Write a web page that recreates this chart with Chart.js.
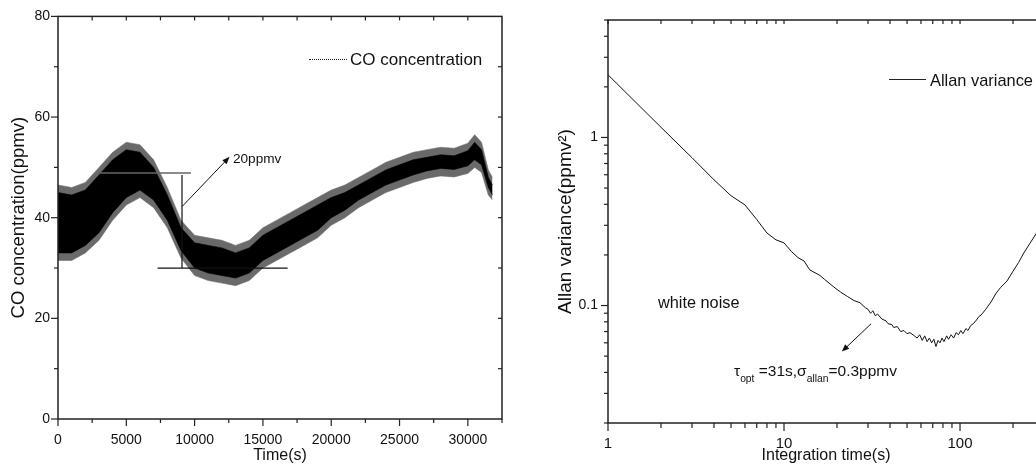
<!DOCTYPE html>
<html>
<head>
<meta charset="utf-8">
<script src="https://cdn.jsdelivr.net/npm/chart.js@4/dist/chart.umd.min.js"></script>
<style>
  body { margin:0; width:1036px; height:470px; overflow:hidden; background:#fff; position:relative;
         font-family:"Liberation Sans", Arial, sans-serif; color:#111; }
  canvas { position:absolute; top:0; }
  #c1 { left:0; }
  #c2 { left:518px; }
  .lbl { position:absolute; white-space:nowrap; line-height:1; color:#111; }
  .sb { font-size:10.3px; vertical-align:-5.5px; }
</style>
</head>
<body>
<canvas id="c1" width="518" height="470"></canvas>
<canvas id="c2" width="543" height="470"></canvas>

<!-- legends + notes -->
<div class="lbl" style="left:309px;top:59px;width:38px;height:0;border-top:1px dotted #222;"></div>
<div class="lbl" style="left:350px;top:51px;font-size:17px;">CO concentration</div>
<div class="lbl" style="left:233px;top:152px;font-size:13.6px;">20ppmv</div>

<div class="lbl" style="left:889px;top:79px;width:37px;height:0;border-top:1px solid #222;"></div>
<div class="lbl" style="left:930px;top:72px;font-size:16.4px;">Allan variance</div>
<div class="lbl" style="left:658px;top:294px;font-size:16.3px;">white noise</div>
<div class="lbl" style="left:734px;top:363px;font-size:15.5px;">&tau;<span class="sb">opt</span> =31s,&sigma;<span class="sb">allan</span>=0.3ppmv</div>

<script>
// ---- left panel: CO concentration band ----
const timeS       = [0, 1000, 2000, 3000, 4000, 5000, 6000, 7000, 8000, 9000, 10000, 11000, 12000, 13000, 14000, 15000, 16000, 17000, 18000, 19000, 20000, 21000, 22000, 23000, 24000, 25000, 26000, 27000, 28000, 29000, 30000, 30500, 31000, 31500, 31800];
const coTipsUpper = [46.5, 46, 47, 50, 53, 55, 54.5, 51.5, 46, 39.5, 36.5, 36, 35.5, 34.5, 35.5, 38, 39.5, 41, 42.5, 44, 45.5, 46.5, 48, 49.5, 51, 52, 53, 53.5, 54, 53.8, 54.8, 56.5, 55, 49.5, 48];
const coCoreUpper = [45, 44.5, 45.5, 48.5, 51.5, 53.5, 53, 50, 44.5, 38, 35, 34.5, 34, 33, 34, 36.5, 38, 39.5, 41, 42.5, 44, 45, 46.5, 48, 49.5, 50.5, 51.5, 52, 52.5, 52.3, 53.3, 55, 53.5, 48, 46.5];
const coCoreLower = [33, 33, 34.5, 37, 41, 44, 45.5, 43.5, 39.5, 33.5, 30, 29, 28.5, 28, 29, 31.5, 33, 34.5, 36, 37.5, 40, 41.5, 43.5, 45, 46.5, 47.5, 48.5, 49.3, 49.8, 49.6, 50.3, 51.5, 50.5, 46, 44.5];
const coTipsLower = [31.5, 31.5, 33, 35.5, 39.5, 42.5, 44, 42, 38, 32, 28.5, 27.5, 27, 26.5, 27.5, 30, 31.5, 33, 34.5, 36, 38.5, 40, 42, 43.5, 45, 46, 47, 47.8, 48.3, 48.1, 48.8, 50, 49, 44.5, 43.5];
const leftXTicks = [0, 5000, 10000, 15000, 20000, 25000, 30000];
const leftYTicks = [0, 20, 40, 60, 80];

// ---- right panel: Allan variance ----
const tauS = [1, 2, 3, 4, 5, 6, 7, 8, 9, 10, 11, 12, 13, 14, 16, 17, 19, 21, 23, 25, 27, 29, 30, 31, 32, 33, 34, 36, 38, 39, 41, 42, 44, 46, 48, 50, 52, 55, 57, 59, 61, 63, 65, 67, 69, 71, 73, 75, 77, 79, 81, 84, 86, 89, 92, 95, 98, 101, 104, 108, 111, 115, 119, 124, 128, 132, 140, 150, 160, 170, 185, 200, 215, 230, 250, 272, 290];
const allanVar = [2.36, 1.15, 0.758, 0.56, 0.45, 0.397, 0.325, 0.27, 0.246, 0.236, 0.21, 0.193, 0.184, 0.163, 0.151, 0.143, 0.13, 0.12, 0.113, 0.107, 0.104, 0.097, 0.095, 0.090, 0.093, 0.087, 0.089, 0.083, 0.081, 0.078, 0.077, 0.074, 0.075, 0.070, 0.071, 0.068, 0.069, 0.066, 0.064, 0.067, 0.062, 0.066, 0.061, 0.064, 0.060, 0.063, 0.057, 0.062, 0.060, 0.064, 0.061, 0.066, 0.063, 0.067, 0.064, 0.069, 0.067, 0.071, 0.068, 0.073, 0.071, 0.076, 0.078, 0.082, 0.086, 0.088, 0.095, 0.105, 0.118, 0.128, 0.14, 0.16, 0.18, 0.205, 0.235, 0.27, 0.3];
const rightXTicks = [1, 10, 100];
const rightYTicks = [0.1, 1];

const FONT = '"Liberation Sans", Arial, sans-serif';
Chart.defaults.font.family = FONT;
Chart.defaults.color = '#111';

function range(a, b, step) { const r = []; for (let v = a; v <= b + 1e-9; v += step) r.push(v); return r; }
function logMinors(lo, hi) {
  const r = [];
  for (let d = Math.pow(10, Math.floor(Math.log10(lo))); d <= hi; d *= 10)
    for (let k = 1; k <= 9; k++) { const v = +(k * d).toPrecision(3); if (v >= lo && v <= hi) r.push(v); }
  return r;
}

// frame + tick marks (out on bottom/left, in on top/right)
const frameTicks = {
  id: 'frameTicks',
  afterDraw(chart, args, o) {
    const { ctx, chartArea: a, scales } = chart;
    ctx.save();
    ctx.strokeStyle = '#222';
    ctx.lineWidth = 1.5;
    ctx.strokeRect(a.left, a.top, a.right - a.left, a.bottom - a.top);
    ctx.lineWidth = 1.2;
    (o.marks || []).forEach(m => {
      const s = scales[m.axis];
      m.values.forEach(v => {
        const p = s.getPixelForValue(v);
        ctx.beginPath();
        if (m.side === 'bottom') { ctx.moveTo(p, a.bottom); ctx.lineTo(p, a.bottom + m.len); }
        if (m.side === 'top')    { ctx.moveTo(p, a.top);    ctx.lineTo(p, a.top + m.len); }
        if (m.side === 'left')   { ctx.moveTo(a.left, p);   ctx.lineTo(a.left - m.len, p); }
        if (m.side === 'right')  { ctx.moveTo(a.right, p);  ctx.lineTo(a.right - m.len, p); }
        ctx.stroke();
      });
    });
    ctx.restore();
  }
};

// note lines and arrows, in data units
const notes = {
  id: 'notes',
  afterDatasetsDraw(chart, args, o) {
    const { ctx, scales: { x, y } } = chart;
    ctx.save();
    (o.lines || []).forEach(l => {
      ctx.strokeStyle = l.color; ctx.lineWidth = l.w;
      ctx.beginPath();
      ctx.moveTo(x.getPixelForValue(l.x1), y.getPixelForValue(l.y1));
      ctx.lineTo(x.getPixelForValue(l.x2), y.getPixelForValue(l.y2));
      ctx.stroke();
    });
    (o.arrows || []).forEach(l => {
      const x1 = x.getPixelForValue(l.x1), y1 = y.getPixelForValue(l.y1);
      const x2 = x.getPixelForValue(l.x2), y2 = y.getPixelForValue(l.y2);
      const ang = Math.atan2(y2 - y1, x2 - x1), h = 8;
      ctx.strokeStyle = '#111'; ctx.fillStyle = '#111'; ctx.lineWidth = 1;
      ctx.beginPath(); ctx.moveTo(x1, y1); ctx.lineTo(x2 - Math.cos(ang) * 4, y2 - Math.sin(ang) * 4); ctx.stroke();
      ctx.beginPath();
      ctx.moveTo(x2, y2);
      ctx.lineTo(x2 - h * Math.cos(ang - 0.38), y2 - h * Math.sin(ang - 0.38));
      ctx.lineTo(x2 - h * Math.cos(ang + 0.38), y2 - h * Math.sin(ang + 0.38));
      ctx.closePath(); ctx.fill();
    });
    ctx.restore();
  }
};

const pts = arr => timeS.map((t, i) => ({ x: t, y: arr[i] }));

// Left chart (datasets are painted last-to-first, so the black core goes first)
new Chart(document.getElementById('c1'), {
  type: 'line',
  data: {
    datasets: [
      { data: pts(coCoreUpper), borderColor: '#000', borderWidth: 0.6, backgroundColor: '#000', fill: '+1', pointRadius: 0 },
      { data: pts(coCoreLower), borderColor: '#000', borderWidth: 0.6, pointRadius: 0, fill: false },
      { data: pts(coTipsUpper), borderColor: '#777', borderWidth: 0.6, backgroundColor: '#6a6a6a', fill: '+1', pointRadius: 0 },
      { data: pts(coTipsLower), borderColor: '#777', borderWidth: 0.6, pointRadius: 0, fill: false }
    ]
  },
  options: {
    responsive: false,
    animation: false,
    layout: { padding: { left: 0, right: 16, top: 16, bottom: 0 } },
    plugins: {
      legend: { display: false },
      tooltip: { enabled: false },
      frameTicks: {
        marks: [
          { axis: 'x', side: 'bottom', values: leftXTicks, len: 7 },
          { axis: 'x', side: 'bottom', values: range(2500, 32500, 5000), len: 4 },
          { axis: 'x', side: 'top', values: range(2500, 30000, 2500), len: 4 },
          { axis: 'y', side: 'left', values: leftYTicks, len: 7 },
          { axis: 'y', side: 'left', values: range(10, 70, 20), len: 4 },
          { axis: 'y', side: 'right', values: range(10, 70, 10), len: 4 }
        ]
      },
      notes: {
        lines: [
          { x1: 2855, y1: 48.9, x2: 9735, y2: 48.9, color: '#666', w: 1.5 },
          { x1: 7290, y1: 30, x2: 16810, y2: 30, color: '#111', w: 1.2 },
          { x1: 9077, y1: 48.5, x2: 9077, y2: 30, color: '#111', w: 1.2 }
        ],
        arrows: [{ x1: 9077, y1: 42.2, x2: 12560, y2: 52.1 }]
      }
    },
    scales: {
      x: {
        type: 'linear', min: 0, max: 32500,
        grid: { display: false, drawTicks: false }, border: { display: false },
        afterBuildTicks: s => { s.ticks = leftXTicks.map(v => ({ value: v })); },
        afterFit: s => { s.height = 51; },
        ticks: { padding: 13, font: { size: 14 }, maxRotation: 0, autoSkip: false, callback: v => String(v) },
        title: { display: true, text: 'Time(s)', font: { size: 16 }, padding: { top: 0, bottom: 5 } }
      },
      y: {
        min: 0, max: 80,
        grid: { display: false, drawTicks: false }, border: { display: false },
        afterBuildTicks: s => { s.ticks = leftYTicks.map(v => ({ value: v })); },
        afterFit: s => { s.width = 58; },
        ticks: { padding: 8, font: { size: 14 }, autoSkip: false, callback: v => String(v) },
        title: { display: true, text: 'CO concentration(ppmv)', font: { size: 18.5 }, padding: { top: 8, bottom: 0 } }
      }
    }
  },
  plugins: [frameTicks, notes]
});

// Right chart
new Chart(document.getElementById('c2'), {
  type: 'line',
  data: {
    datasets: [{
      data: tauS.map((t, i) => ({ x: t, y: allanVar[i] })),
      borderColor: '#111', borderWidth: 1, pointRadius: 0, tension: 0, fill: false
    }]
  },
  options: {
    responsive: false,
    animation: false,
    layout: { padding: { left: 0, right: 17, top: 20, bottom: 0 } },
    plugins: {
      legend: { display: false },
      tooltip: { enabled: false },
      frameTicks: {
        marks: [
          { axis: 'x', side: 'bottom', values: rightXTicks, len: 8 },
          { axis: 'x', side: 'bottom', values: logMinors(1, 300).filter(v => !rightXTicks.includes(v)), len: 5 },
          { axis: 'x', side: 'top', values: logMinors(1, 300), len: 4 },
          { axis: 'y', side: 'left', values: rightYTicks, len: 7 },
          { axis: 'y', side: 'left', values: logMinors(0.02, 5).filter(v => !rightYTicks.includes(v)), len: 4 }
        ]
      },
      notes: {
        arrows: [{ x1: 31.2, y1: 0.0778, x2: 21.3, y2: 0.0532 }]
      }
    },
    scales: {
      x: {
        type: 'logarithmic', min: 1, max: 300,
        grid: { display: false, drawTicks: false }, border: { display: false },
        afterBuildTicks: s => { s.ticks = rightXTicks.map(v => ({ value: v })); },
        afterFit: s => { s.height = 47; },
        ticks: { padding: 12, font: { size: 15 }, maxRotation: 0, autoSkip: false, callback: v => String(v) },
        title: { display: true, text: 'Integration time(s)', font: { size: 16 }, padding: { top: 0, bottom: 5 } }
      },
      y: {
        type: 'logarithmic', min: 0.02, max: 5,
        grid: { display: false, drawTicks: false }, border: { display: false },
        afterBuildTicks: s => { s.ticks = rightYTicks.map(v => ({ value: v })); },
        afterFit: s => { s.width = 90; },
        ticks: { padding: 10, font: { size: 14 }, autoSkip: false, callback: v => String(v) },
        title: { display: true, text: 'Allan variance(ppmv²)', font: { size: 19 }, padding: { top: 36, bottom: 0 } }
      }
    }
  },
  plugins: [frameTicks, notes]
});
</script>
</body>
</html>
